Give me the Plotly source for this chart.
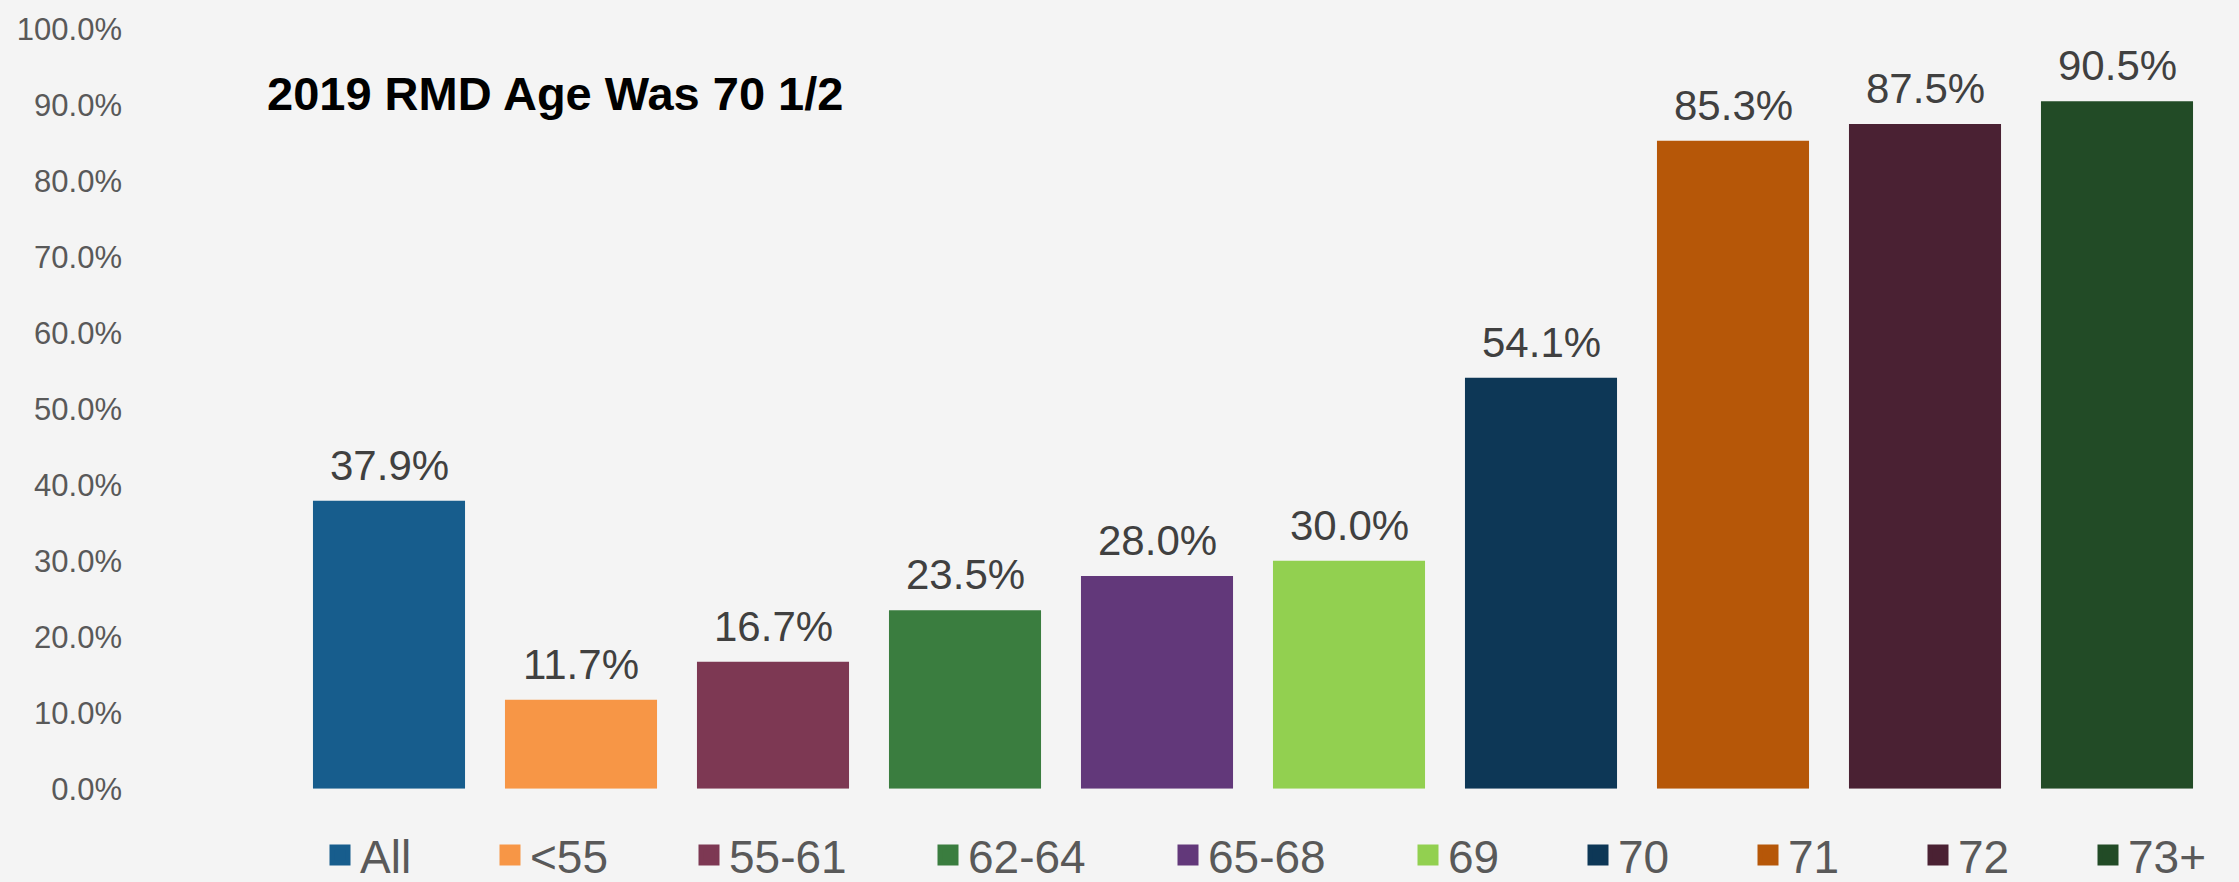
import plotly.graph_objects as go

# ---- data ----
categories = ["All", "<55", "55-61", "62-64", "65-68", "69", "70", "71", "72", "73+"]
values = [0.379, 0.117, 0.167, 0.235, 0.280, 0.300, 0.541, 0.853, 0.875, 0.905]
colors = ["#175D8D", "#F79646", "#7D3853", "#3A7D3F", "#62387A",
          "#92D050", "#0D3756", "#B65708", "#4A2133", "#224B26"]
y_tick_values = [i / 10 for i in range(11)]
title_text = "2019 RMD Age Was 70 1/2"

# ---- layout constants ----
W, H = 2239, 882
BG = "#F4F4F4"
FONT = "Liberation Sans, Arial, sans-serif"
legend_left_px = [320, 490, 689, 928, 1168, 1408, 1578, 1748, 1918, 2088]

fig = go.Figure()
for i, (cat, val, col) in enumerate(zip(categories, values, colors)):
    lg = "legend" if i == 0 else f"legend{i + 1}"
    fig.add_trace(go.Bar(
        x=[cat], y=[val], name=cat,
        marker=dict(color=col, line=dict(width=0)),
        showlegend=False, legendgroup=cat,
        hoverinfo="x+y",
    ))
    # legend proxy with larger square symbol
    fig.add_trace(go.Scatter(
        x=[cat], y=[None], mode="markers", name=cat, legend=lg,
        legendgroup=cat, showlegend=True, hoverinfo="skip",
        marker=dict(symbol="square", size=16, color=col,
                    line=dict(color=col, width=5)),
    ))

# value labels above bars (category index on the category axis)
annotations = [
    dict(x=i, y=val, xref="x", yref="y", text=f"{val * 100:.1f}%",
         showarrow=False, yanchor="bottom", xanchor="center", yshift=10,
         font=dict(family=FONT, size=42, color="#404040"))
    for i, val in enumerate(values)
]

layout_legends = {}
for i, px in enumerate(legend_left_px):
    key = "legend" if i == 0 else f"legend{i + 1}"
    layout_legends[key] = dict(
        xref="container", yref="container",
        x=px / W, xanchor="left",
        y=1 - 855 / H, yanchor="middle",
        orientation="h", bgcolor="rgba(0,0,0,0)", borderwidth=0,
        font=dict(family=FONT, size=46, color="#595959"),
    )

fig.update_layout(
    width=W, height=H,
    paper_bgcolor=BG, plot_bgcolor=BG,
    margin=dict(l=293, r=26, t=23, b=91),
    barmode="overlay", bargap=0.208,
    font=dict(family=FONT),
    title=dict(
        text=f"<b>{title_text}</b>",
        xref="container", yref="container",
        x=267 / W, xanchor="left",
        y=1 - 94 / H, yanchor="middle",
        font=dict(family=FONT, size=47, color="#000000"),
    ),
    xaxis=dict(
        type="category",
        categoryorder="array", categoryarray=categories,
        range=[-0.5, len(categories) - 0.5],
        showticklabels=False, showgrid=False, zeroline=False,
        showline=False, ticks="",
    ),
    yaxis=dict(
        range=[0, 1], tickvals=y_tick_values, tickformat=".1%",
        showgrid=False, zeroline=False, showline=False, ticks="",
        tickfont=dict(family=FONT, size=31, color="#595959"),
        ticklabelstandoff=170,
    ),
    annotations=annotations,
    **layout_legends,
)

fig.write_html(
    "out.html",
    config={"displayModeBar": False},
    post_script="document.body.style.margin='0';document.body.style.overflow='hidden';",
)
